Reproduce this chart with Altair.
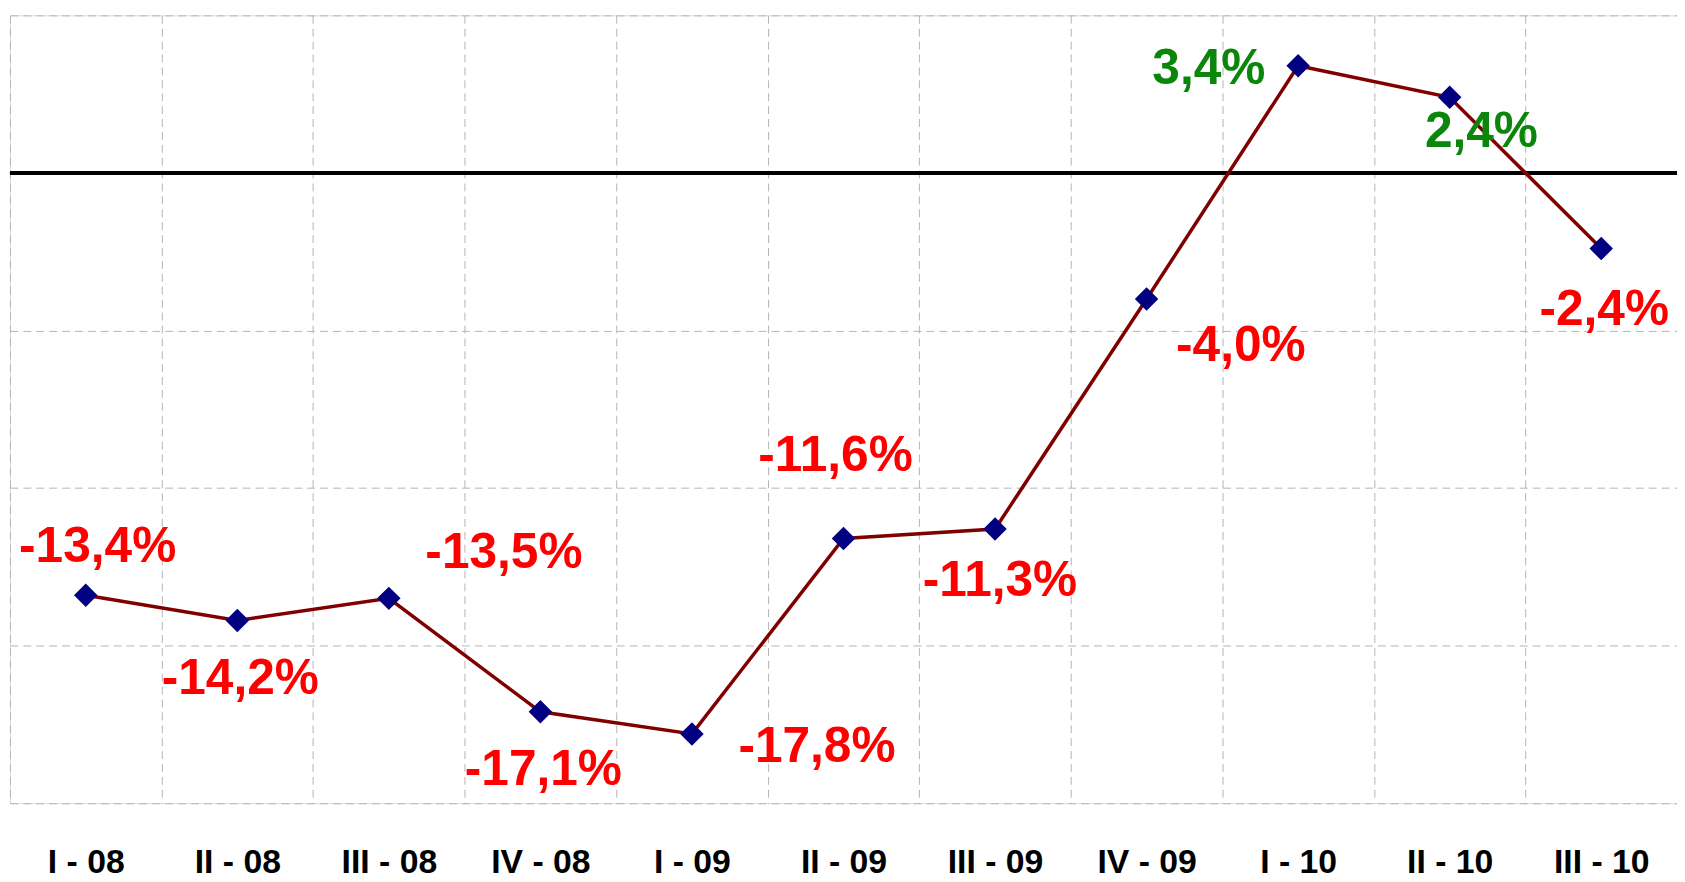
import altair as alt
import pandas as pd

quarters = ["I - 08", "II - 08", "III - 08", "IV - 08", "I - 09", "II - 09",
            "III - 09", "IV - 09", "I - 10", "II - 10", "III - 10"]
values = [-13.4, -14.2, -13.5, -17.1, -17.8, -11.6, -11.3, -4.0, 3.4, 2.4, -2.4]
labels = [f"{v:.1f}%".replace(".", ",") for v in values]

df = pd.DataFrame({"q": quarters, "v": values, "lab": labels})

# label placement (layout only): pixel offsets from each point
label_offsets = {
    "I - 08": (12, -48), "II - 08": (3, 59), "III - 08": (116, -46),
    "IV - 08": (3, 59), "I - 09": (126, 13), "II - 09": (-8, -83),
    "III - 09": (5, 52), "IV - 09": (95, 47), "I - 10": (-90, 3),
    "II - 10": (32, 35), "III - 10": (3, 62),
}

x_enc = alt.X("q:N", sort=quarters, title=None,
              scale=alt.Scale(paddingInner=0, paddingOuter=0),
              axis=alt.Axis(tickBand="extent", grid=True, gridDash=[8, 5], gridColor="#B4B4B4",
                            gridWidth=1, ticks=False, tickSize=0, domain=False,
                            labelFont="Liberation Sans", labelFontWeight="bold",
                            labelFontSize=34, labelColor="#000000", labelPadding=60,
                            labelBaseline="middle", labelAngle=0))
y_enc = alt.Y("v:Q", title=None, scale=alt.Scale(domain=[-20, 5], nice=False, zero=False),
              axis=alt.Axis(values=[-20, -15, -10, -5, 0, 5], grid=True, gridDash=[8, 5],
                            gridColor="#B4B4B4", gridWidth=1, labels=False, ticks=False,
                            domain=False))

base = alt.Chart(df)

grid = base.mark_point(opacity=0).encode(x=x_enc, y=y_enc)
zero = base.mark_rule(color="#000000", strokeWidth=3).encode(y=alt.datum(0))
line = base.mark_line(color="#800000", strokeWidth=3.5).encode(
    x=alt.X("q:N", sort=quarters), y=alt.Y("v:Q"))
pts = base.mark_point(shape="diamond", filled=True, color="#000080", size=560, opacity=1).encode(
    x=alt.X("q:N", sort=quarters), y=alt.Y("v:Q"))

text_layers = []
for q in quarters:
    dx, dy = label_offsets[q]
    t = base.transform_filter(alt.datum.q == q).mark_text(
        dx=dx, dy=dy, font="Liberation Sans", fontWeight="bold", fontSize=50,
        align="center", baseline="middle").encode(
        x=alt.X("q:N", sort=quarters), y=alt.Y("v:Q"), text="lab:N",
        color=alt.condition(alt.datum.v >= 0, alt.value("#0A860A"), alt.value("#FF0000")))
    text_layers.append(t)

chart = alt.layer(grid, zero, line, pts, *text_layers).properties(
    width=1680, height=794,
    autosize=alt.AutoSizeParams(type="none"),
    padding={"left": 2, "top": 4, "right": 0, "bottom": 78},
).configure_view(stroke="#B4B4B4", strokeWidth=1).configure(background="white")

chart.save("out.html", embed_options={"renderer": "svg", "actions": False})
